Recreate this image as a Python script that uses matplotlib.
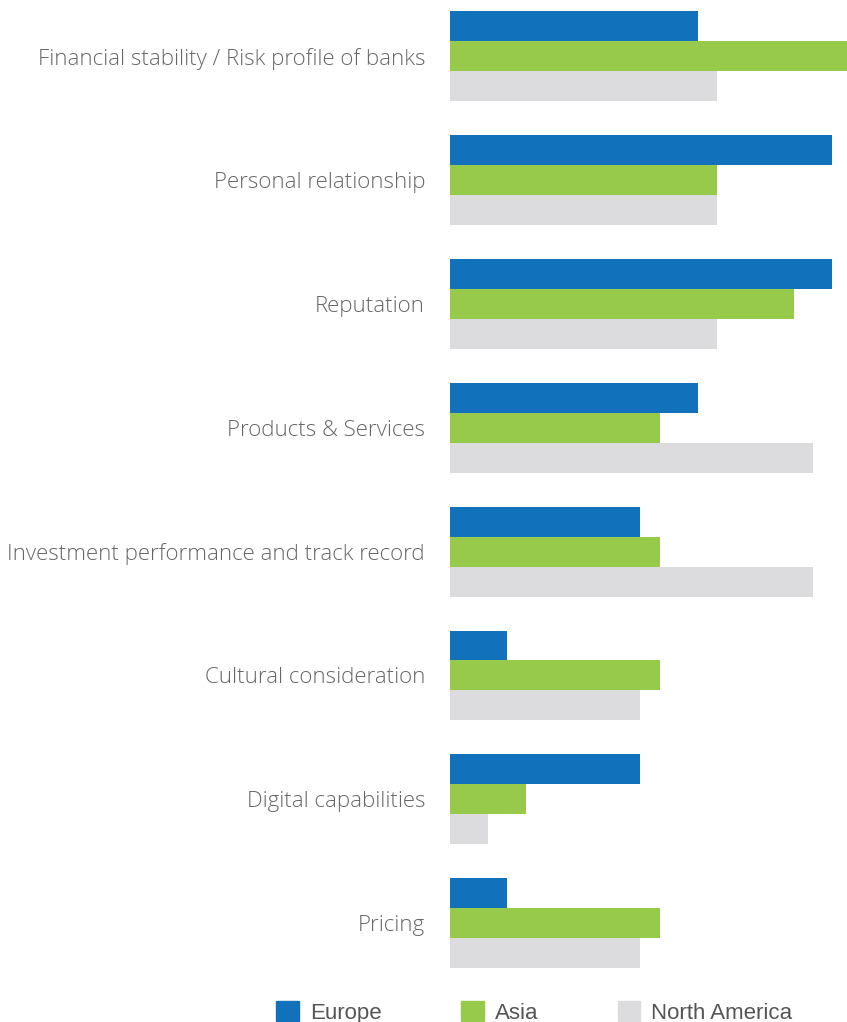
import numpy as np
import matplotlib.pyplot as plt
from matplotlib.patches import Patch

categories = ["Financial stability / Risk profile of banks", "Personal relationship",
              "Reputation", "Products & Services",
              "Investment performance and track record", "Cultural consideration",
              "Digital capabilities", "Pricing"]
europe = [13.1, 20.2, 20.2, 13.1, 10.05, 3, 10.05, 3]
asia = [21, 14.1, 18.2, 11.1, 11.1, 11.1, 4, 11.1]
north_america = [14.1, 14.1, 14.1, 19.2, 19.2, 10.05, 2, 10.05]

c_eu = '#1172bb'
c_as = '#97c94b'
c_na = '#dcdcde'

fig = plt.figure(figsize=(8.47, 10.22), dpi=100)
h = 0.242
ax = fig.add_axes([0.5313, 0.0528, 0.4687, 0.936])
y = np.arange(len(categories))
ax.barh(y - h, europe, height=h, color=c_eu)
ax.barh(y, asia, height=h, color=c_as)
ax.barh(y + h, north_america, height=h, color=c_na)
ax.set_xlim(0, 21)
ax.set_ylim(len(categories) - 1 + 1.5*h, -1.5*h)
ax.set_yticks(y)
ax.set_yticklabels(categories, fontsize=16, color='#666666',
                   family='Open Sans', fontweight='light')
ax.tick_params(axis='y', length=0, pad=18)
ax.set_xticks([])
for s in ax.spines.values():
    s.set_visible(False)

handles = [Patch(color=c_eu, label='Europe'), Patch(color=c_as, label='Asia'),
           Patch(color=c_na, label='North America')]
fig.legend(handles=handles, loc='center', bbox_to_anchor=(0.631, 0.0095), ncol=3,
           frameon=False, prop={'family': 'Liberation Sans', 'size': 16},
           labelcolor='#555555', handlelength=1.0, handleheight=1.0,
           handletextpad=0.5, columnspacing=3.6)

fig.savefig('out.png', dpi=100)
